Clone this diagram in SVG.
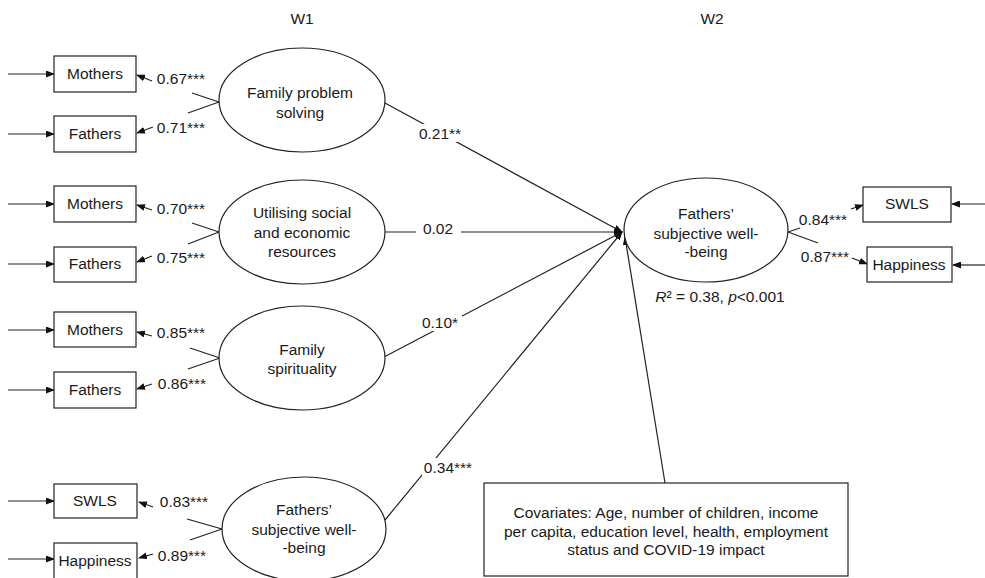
<svg xmlns="http://www.w3.org/2000/svg" width="985" height="578" viewBox="0 0 985 578">
<style>
text{font-family:"Liberation Sans",Arial,sans-serif;font-size:15.5px;fill:#1a1a1a}
.m{text-anchor:middle}
.box{fill:#fff;stroke:#222;stroke-width:1.2}
.ell{fill:#fff;stroke:#222;stroke-width:1.2}
.ln{stroke:#222;stroke-width:1.2;fill:none}
.ar{stroke:#222;stroke-width:1.2;fill:none;marker-end:url(#ah)}
.bg{fill:#fff}
</style>
<defs>
<marker id="ah" markerWidth="9" markerHeight="7" refX="8" refY="3.5" orient="auto" markerUnits="userSpaceOnUse">
<path d="M0,0 L9,3.5 L0,7 z" fill="#111"/>
</marker>
</defs>
<rect width="985" height="578" fill="#fff"/>
<text id="w1" class="m" x="302" y="24">W1</text>
<text id="w2" class="m" x="712" y="24">W2</text>

<g id="connectors">
<!-- error arrows left -->
<line class="ar" x1="8" y1="74" x2="54" y2="74"/>
<line class="ar" x1="8" y1="134" x2="54" y2="134"/>
<line class="ar" x1="8" y1="204" x2="54" y2="204"/>
<line class="ar" x1="8" y1="264" x2="54" y2="264"/>
<line class="ar" x1="8" y1="330" x2="54" y2="330"/>
<line class="ar" x1="8" y1="390" x2="54" y2="390"/>
<line class="ar" x1="8" y1="501" x2="54" y2="501"/>
<line class="ar" x1="8" y1="559" x2="54" y2="559"/>
<!-- error arrows right -->
<line class="ar" x1="985" y1="204" x2="952" y2="204"/>
<line class="ar" x1="985" y1="265" x2="953" y2="265"/>
<!-- loadings group 1 -->
<line class="ln" x1="219" y1="102" x2="192" y2="93"/>
<line class="ar" x1="152" y1="81" x2="137" y2="75"/>
<line class="ln" x1="219" y1="102" x2="188" y2="113"/>
<line class="ar" x1="153" y1="127" x2="137" y2="133"/>
<!-- group 2 -->
<line class="ln" x1="219" y1="232" x2="192" y2="223"/>
<line class="ar" x1="152" y1="210" x2="137" y2="205"/>
<line class="ln" x1="219" y1="232" x2="188" y2="244"/>
<line class="ar" x1="152" y1="256" x2="137" y2="262"/>
<!-- group 3 -->
<line class="ln" x1="220" y1="358" x2="190" y2="348"/>
<line class="ar" x1="152" y1="336" x2="137" y2="332"/>
<line class="ln" x1="220" y1="358" x2="188" y2="369"/>
<line class="ar" x1="152" y1="384" x2="137" y2="389"/>
<!-- group 4 -->
<line class="ln" x1="222" y1="529" x2="187" y2="519"/>
<line class="ar" x1="153" y1="507" x2="139" y2="502"/>
<line class="ln" x1="222" y1="529" x2="190" y2="540"/>
<line class="ar" x1="153" y1="554" x2="139" y2="558"/>
<!-- right loadings -->
<line class="ln" x1="788" y1="232" x2="800" y2="228"/>
<line class="ar" x1="851" y1="209" x2="863" y2="205"/>
<line class="ln" x1="788" y1="232" x2="818" y2="243"/>
<line class="ar" x1="852" y1="258" x2="867" y2="264"/>
<!-- structural paths -->
<line class="ar" x1="385" y1="103" x2="622" y2="232"/>
<line class="ar" x1="385" y1="232" x2="622" y2="232"/>
<line class="ar" x1="384" y1="357" x2="622" y2="232"/>
<line class="ar" x1="385" y1="520" x2="622" y2="232"/>
<line class="ar" x1="665" y1="483" x2="625" y2="237"/>
<!-- path labels -->
<rect class="bg" x="418" y="124" width="44" height="18"/>
<text class="m" x="440" y="139">0.21**</text>
<rect class="bg" x="416" y="220" width="45" height="17"/>
<text class="m" x="438" y="234">0.02</text>
<rect class="bg" x="418" y="313" width="44" height="18"/>
<text class="m" x="440" y="328">0.10*</text>
<rect class="bg" x="422" y="458" width="53" height="18"/>
<text class="m" x="448" y="473">0.34***</text>
<!-- loading labels -->
<text class="m" x="181" y="84">0.67***</text>
<text class="m" x="181" y="133">0.71***</text>
<text class="m" x="181" y="214">0.70***</text>
<text class="m" x="181" y="263">0.75***</text>
<text class="m" x="181" y="338">0.85***</text>
<text class="m" x="182" y="389">0.86***</text>
<text class="m" x="184" y="507">0.83***</text>
<text class="m" x="182" y="561">0.89***</text>
<text class="m" x="823" y="225">0.84***</text>
<text class="m" x="825" y="262">0.87***</text>
</g>

<g id="n-m1"><rect class="box" x="54" y="56" width="82" height="36"/><text class="m" x="95" y="79">Mothers</text></g>
<g id="n-f1"><rect class="box" x="54" y="116" width="82" height="36"/><text class="m" x="95" y="139">Fathers</text></g>
<g id="n-m2"><rect class="box" x="54" y="186" width="82" height="36"/><text class="m" x="95" y="209">Mothers</text></g>
<g id="n-f2"><rect class="box" x="54" y="247" width="82" height="35"/><text class="m" x="95" y="269">Fathers</text></g>
<g id="n-m3"><rect class="box" x="54" y="312" width="82" height="35"/><text class="m" x="95" y="335">Mothers</text></g>
<g id="n-f3"><rect class="box" x="54" y="372" width="82" height="36"/><text class="m" x="95" y="395">Fathers</text></g>
<g id="n-swls1"><rect class="box" x="54" y="484" width="83" height="34"/><text class="m" x="95" y="506">SWLS</text></g>
<g id="n-hap1"><rect class="box" x="54" y="543" width="83" height="36"/><text class="m" x="95" y="566">Happiness</text></g>

<g id="n-fps"><ellipse class="ell" cx="302" cy="100" rx="83" ry="52"/><text class="m" x="300" y="98">Family problem</text><text class="m" x="300" y="118">solving</text></g>
<g id="n-user"><ellipse class="ell" cx="302" cy="232" rx="83" ry="52"/><text class="m" x="302" y="218">Utilising social</text><text class="m" x="302" y="238">and economic</text><text class="m" x="302" y="257">resources</text></g>
<g id="n-spir"><ellipse class="ell" cx="302" cy="358" rx="83" ry="52"/><text class="m" x="302" y="355">Family</text><text class="m" x="302" y="374">spirituality</text></g>
<g id="n-fswb1"><ellipse class="ell" cx="304" cy="529" rx="82" ry="52"/><text class="m" x="304" y="515">Fathers’</text><text class="m" x="304" y="535">subjective well-</text><text class="m" x="304" y="553">-being</text></g>

<g id="n-fswb2"><ellipse class="ell" cx="706" cy="230" rx="82" ry="52"/><text class="m" x="706" y="219">Fathers’</text><text class="m" x="706" y="239">subjective well-</text><text class="m" x="706" y="257">-being</text></g>
<g id="r2"><text class="m" x="720" y="302"><tspan font-style="italic">R</tspan>² = 0.38, <tspan font-style="italic">p</tspan>&lt;0.001</text></g>

<g id="n-swls2"><rect class="box" x="863" y="187" width="88" height="35"/><text class="m" x="907" y="209">SWLS</text></g>
<g id="n-hap2"><rect class="box" x="867" y="247" width="85" height="35"/><text class="m" x="909" y="270">Happiness</text></g>

<g id="n-cov"><rect class="box" x="484" y="483" width="364" height="93"/>
<text class="m" x="666" y="518">Covariates: Age, number of children, income</text>
<text class="m" x="666" y="537">per capita, education level, health, employment</text>
<text class="m" x="666" y="555">status and COVID-19 impact</text></g>
</svg>
